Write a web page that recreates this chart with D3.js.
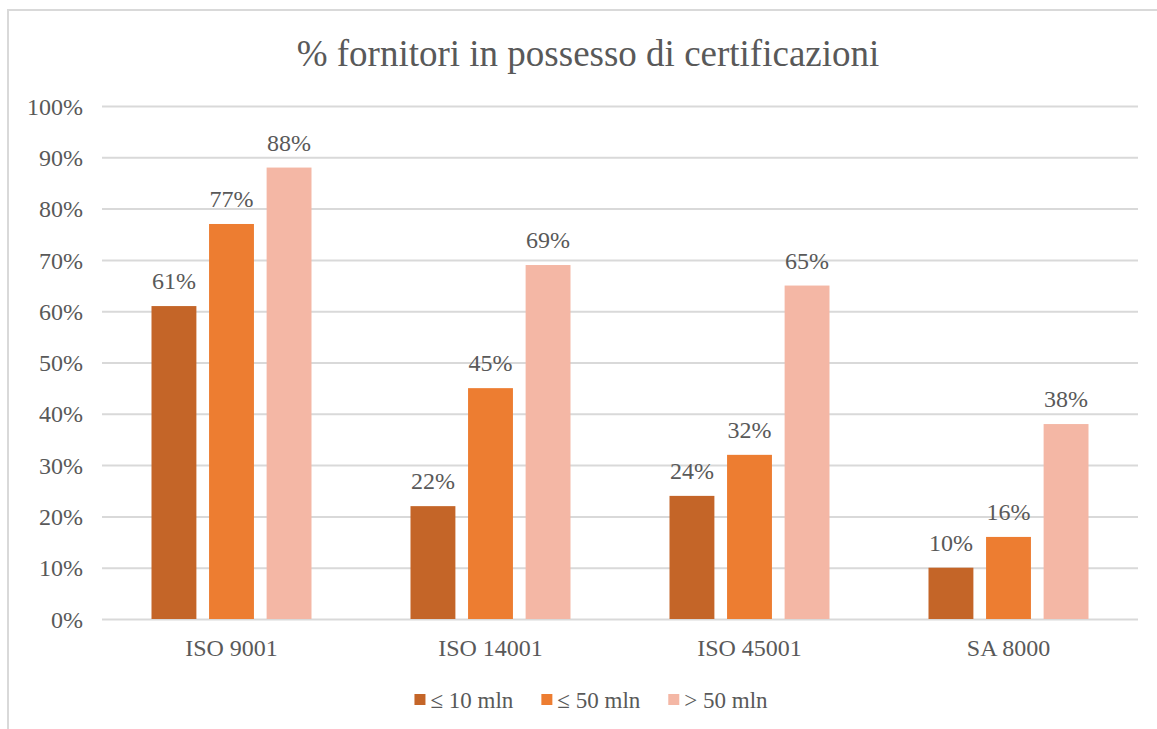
<!DOCTYPE html>
<html>
<head>
<meta charset="utf-8">
<script src="https://cdn.jsdelivr.net/npm/d3@7"></script>
<style>
  html, body { margin: 0; padding: 0; background: #fff; }
  svg { display: block; }
</style>
</head>
<body>
<svg id="chart" width="1157" height="729"></svg>
<script>
// Certifications held by suppliers, split by revenue class
const categories = ["ISO 9001", "ISO 14001", "ISO 45001", "SA 8000"];
const seriesNames = ["≤ 10 mln", "≤ 50 mln", "> 50 mln"];
const upTo10 = [61, 22, 24, 10];
const upTo50 = [77, 45, 32, 16];
const over50 = [88, 69, 65, 38];
const seriesColors = ["#C46528", "#ED7D31", "#F4B7A5"];
const yTicks = [0, 10, 20, 30, 40, 50, 60, 70, 80, 90, 100];
const titleText = "% fornitori in possesso di certificazioni";

const seriesValues = [upTo10, upTo50, over50];

const svg = d3.select("#chart");
const W = 1157, H = 729;

// pick the first installed serif face from a list of candidates
function pickSerif() {
  const probe = svg.append("text").attr("x", -1000).attr("y", -1000).attr("font-size", 40)
    .text("% fornitori in possesso mln 0123456789");
  const widthOf = f => { probe.attr("font-family", f); return probe.node().getComputedTextLength(); };
  const mono = widthOf("monospace");
  const candidates = ["Liberation Serif", "Times New Roman", "Tinos", "Nimbus Roman", "DejaVu Serif", "Noto Serif"];
  let found = "serif";
  for (const c of candidates) {
    const w1 = widthOf(`"${c}", monospace`), w2 = widthOf(`"${c}", sans-serif`);
    if (Math.abs(w1 - w2) < 0.01 && Math.abs(w1 - mono) > 0.01) { found = `"${c}", serif`; break; }
  }
  probe.remove();
  return found;
}
const FONT = pickSerif();
const TEXT = "#595959";
const LABEL_SIZE = 24;

// outer chart frame
svg.append("rect")
  .attr("x", 8).attr("y", 10)
  .attr("width", W + 20).attr("height", H + 20)
  .attr("fill", "#fff")
  .attr("stroke", "#D9D9D9").attr("stroke-width", 2);

const plot = { left: 102, right: 1138, top: 106, bottom: 619 };

const x0 = d3.scaleBand().domain(categories).range([plot.left, plot.right]).padding(0);
const x1 = d3.scaleBand().domain(seriesNames)
  .range([x0.bandwidth() / 2 - 80, x0.bandwidth() / 2 + 80])
  .paddingInner(0.22);
const y = d3.scaleLinear().domain([0, 100]).range([plot.bottom, plot.top]);

// title
svg.append("text")
  .attr("x", 588).attr("y", 66)
  .attr("text-anchor", "middle")
  .attr("font-family", FONT)
  .attr("fill", TEXT)
  .attr("font-size", 37)
  .text(titleText);

// gridlines + y axis labels
const yAxis = d3.axisLeft(y).tickValues(yTicks)
  .tickSize(-(plot.right - plot.left))
  .tickPadding(19)
  .tickFormat(d => d + "%");
const gy = svg.append("g").attr("transform", `translate(${plot.left},0)`).call(yAxis);
gy.select(".domain").remove();
gy.selectAll(".tick line").attr("stroke", "#D9D9D9").attr("stroke-width", 2);
gy.selectAll(".tick text")
  .attr("font-size", LABEL_SIZE)
  .attr("font-family", FONT)
  .attr("fill", TEXT)
  .attr("dy", "0.34em");

// category axis labels
const xAxis = d3.axisBottom(x0).tickSize(0).tickPadding(20);
const gx = svg.append("g").attr("transform", `translate(0,${plot.bottom})`).call(xAxis);
gx.select(".domain").remove();
gx.selectAll(".tick text")
  .attr("font-size", LABEL_SIZE)
  .attr("font-family", FONT)
  .attr("fill", TEXT)
  .attr("dy", "0.71em");

// bars and value labels
const rows = categories.map((c, i) => ({
  cat: c,
  vals: seriesNames.map((s, j) => ({ s, j, v: seriesValues[j][i] }))
}));

const groups = svg.append("g").selectAll("g").data(rows).join("g")
  .attr("transform", d => `translate(${x0(d.cat)},0)`);

groups.selectAll("rect").data(d => d.vals).join("rect")
  .attr("x", d => x1(d.s))
  .attr("y", d => y(d.v))
  .attr("width", x1.bandwidth())
  .attr("height", d => y(0) - y(d.v))
  .attr("fill", d => seriesColors[d.j]);

groups.selectAll("text.val").data(d => d.vals).join("text")
  .attr("class", "val")
  .attr("x", d => x1(d.s) + x1.bandwidth() / 2)
  .attr("y", d => y(d.v) - 17)
  .attr("text-anchor", "middle")
  .attr("font-family", FONT)
  .attr("fill", TEXT)
  .attr("font-size", LABEL_SIZE)
  .text(d => d.v + "%");

// legend
const legend = svg.append("g");
let lx = 0;
seriesNames.forEach((name, j) => {
  const g = legend.append("g").attr("transform", `translate(${lx},0)`);
  g.append("rect").attr("x", 0).attr("y", -6).attr("width", 11).attr("height", 11)
    .attr("fill", seriesColors[j]);
  const t = g.append("text").attr("x", 16).attr("y", 8)
    .attr("font-family", FONT).attr("fill", TEXT)
    .attr("font-size", 23).text(name);
  lx += 16 + t.node().getComputedTextLength() + 28;
});
const legendWidth = lx - 28;
legend.attr("transform", `translate(${591 - legendWidth / 2},700)`);
</script>
</body>
</html>
